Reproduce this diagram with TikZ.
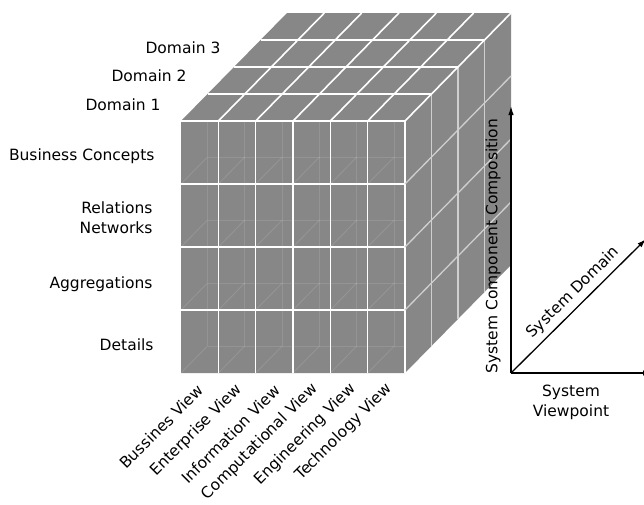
\documentclass[tikz,border=0pt]{standalone}
\usepackage{fontspec}
\setmainfont{DejaVu Sans}
\usetikzlibrary{arrows.meta}
\definecolor{cubegray}{HTML}{878787}
\definecolor{sidegrid}{HTML}{CFCFCF}
\begin{document}
\begin{tikzpicture}[x=1pt,y=-1pt,
  font=\fontsize{15.5}{20}\selectfont,
  cellgrid/.style={white,line width=1.6pt},
  sidelines/.style={sidegrid,line width=1.3pt},
  faint/.style={white,opacity=0.11,line width=1pt},
  axis/.style={black,line width=1.3pt},
  axistip/.style={-{Latex[length=9pt,width=5.5pt]}},
  rowlabel/.style={anchor=east,align=right},
  viewlabel/.style={anchor=east,rotate=45,inner sep=1pt}]
\clip (0,0) rectangle (644,504);
% cell size and depth offset of one domain layer
\def\cw{37.333}\def\rh{63}\def\dx{26.5}\def\dy{27}

% solid body of the cube
\fill[cubegray] (181,121) -- (287,13) -- (511,13) -- (511,265)
  -- (405,373) -- (181,373) -- cycle;

% edges of the second layer seen through the front face
\begin{scope}
  \clip (181,121) rectangle (405,373);
  \foreach \i in {0,...,6}
    \draw[faint] ({181+\i*\cw+\dx},{121-\dy}) -- ++(0,252);
  \foreach \j in {0,...,4}
    \draw[faint] ({181+\dx},{121+\j*\rh-\dy}) -- ++(224,0);
  \foreach \i in {0,...,6}
    \foreach \j in {1,...,4}
      \draw[faint] ({181+\i*\cw},{121+\j*\rh}) -- ++(\dx,-\dy);
\end{scope}

% front face grid
\foreach \i in {1,...,6}
  \draw[cellgrid] ({181+\i*\cw},121) -- ({181+\i*\cw},373);
\foreach \j in {0,...,3}
  \draw[cellgrid] (181,{121+\j*\rh}) -- (405,{121+\j*\rh});

% right face grid
\foreach \k in {1,...,3}
  \draw[sidelines] ({405+\k*\dx},{121-\k*\dy}) -- ++(0,252);
\foreach \j in {1,...,3}
  \draw[sidelines] (405,{121+\j*\rh}) -- ++(106,-108);

% top face grid
\foreach \k in {1,...,3}
  \draw[cellgrid] ({181+\k*\dx},{121-\k*\dy}) -- ++(224,0);
\foreach \i in {1,...,6}
  \draw[cellgrid] ({181+\i*\cw},121) -- ++(106,-108);

% domain labels
\node[anchor=east] (dom3) at (224,48) {Domain 3};
\node[anchor=east] (dom2) at (190,76) {Domain 2};
\node[anchor=east] (dom1) at (164,105) {Domain 1};

% composition levels
\node[rowlabel] (lev1) at (158,156) {Business Concepts};
\node[rowlabel] (lev2) at (156,218) {Relations\\Networks};
\node[rowlabel] (lev3) at (156,284) {Aggregations};
\node[rowlabel] (lev4) at (157,345) {Details};

% viewpoints
\node[viewlabel] (view1) at (201,387) {Bussines View};
\node[viewlabel] (view2) at (240,387) {Enterprise View};
\node[viewlabel] (view3) at (278,387) {Information View};
\node[viewlabel] (view4) at (316,386) {Computational View};
\node[viewlabel] (view5) at (354,386) {Engineering View};
\node[viewlabel] (view6) at (390,386) {Technology View};

% axes
\coordinate (orig) at (511,373);
\coordinate (uptip) at (511,106);
\coordinate (righttip) at (652,373);
\coordinate (diagtip) at (646,239);
\draw[axis,axistip] (orig) -- (uptip);
\draw[axis,axistip] (orig) -- (righttip);
\draw[axis,axistip] (orig) -- (diagtip)
  node[pos=0.53,sloped,above,inner sep=5pt] (domlabel) {System Domain};
\node[rotate=90] (complabel) at (493,246) {System Component Composition};
\node[align=center] (viewaxis) at (571,402) {System\\Viewpoint};
\end{tikzpicture}
\end{document}
